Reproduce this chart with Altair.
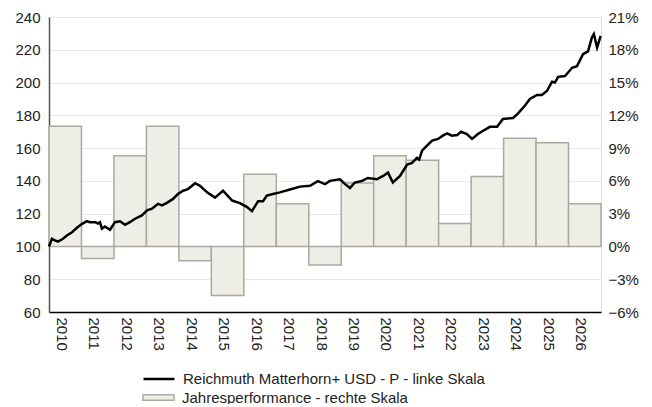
import altair as alt
import pandas as pd

# ---- data ----
years = list(range(2010, 2027))
perf = [11.0, -1.1, 8.3, 11.0, -1.3, -4.5, 6.6, 3.9, -1.7, 5.8, 8.3, 7.9, 2.1, 6.4, 9.9, 9.5, 3.9]

t = [2010.00, 2010.09, 2010.18, 2010.28, 2010.43, 2010.55, 2010.71, 2010.86,
     2011.02, 2011.17, 2011.26, 2011.42, 2011.51, 2011.57, 2011.63, 2011.72, 2011.88,
     2012.03, 2012.19, 2012.34, 2012.49, 2012.65, 2012.86,
     2013.02, 2013.17, 2013.36, 2013.48, 2013.63, 2013.82, 2013.97,
     2014.13, 2014.28, 2014.50, 2014.65, 2014.87,
     2015.11, 2015.36, 2015.64, 2015.88,
     2016.10, 2016.25, 2016.44, 2016.59, 2016.71, 2016.90,
     2017.11, 2017.42, 2017.73,
     2018.04, 2018.28, 2018.50, 2018.65, 2018.96,
     2019.12, 2019.27, 2019.42, 2019.64, 2019.82,
     2020.10, 2020.29, 2020.44, 2020.59, 2020.81,
     2021.03, 2021.18, 2021.33, 2021.40, 2021.49, 2021.64, 2021.80, 2021.98,
     2022.13, 2022.26, 2022.41, 2022.57, 2022.69, 2022.87,
     2023.03, 2023.21, 2023.37, 2023.58, 2023.80, 2023.98,
     2024.29, 2024.44, 2024.66, 2024.81,
     2025.03, 2025.18, 2025.34, 2025.49, 2025.58, 2025.68, 2025.89, 2025.98,
     2026.11, 2026.26, 2026.45, 2026.60, 2026.72, 2026.78, 2026.88, 2026.99]

nav = [100.0, 104.7, 103.7, 103.0, 104.7, 106.7, 108.7, 111.4,
       113.8, 115.4, 114.8, 114.8, 114.0, 114.8, 110.8, 112.2, 110.2,
       114.8, 115.4, 113.2, 114.8, 116.9, 118.9,
       122.0, 123.0, 126.0, 125.0, 126.6, 129.0, 132.0,
       134.0, 135.0, 138.6, 137.0, 133.0,
       129.8, 134.0, 128.0, 126.4,
       124.0, 121.5, 127.6, 127.6, 131.0, 132.0,
       133.0, 134.7, 136.5,
       137.0, 139.8, 138.0, 140.0, 141.0,
       138.0, 135.7, 139.0, 140.0, 141.8,
       141.0, 143.0, 145.0, 139.0, 143.0,
       150.0, 151.0, 154.0, 153.0, 158.5, 161.5, 164.6, 165.6,
       167.6, 169.0, 167.6, 168.0, 170.0, 168.6,
       165.6, 168.6, 170.6, 173.0, 173.0, 177.8,
       178.4, 181.0, 186.0, 190.0,
       192.4, 192.4, 195.0, 200.5, 200.0, 203.5, 204.0, 206.0,
       209.0, 210.0, 217.4, 219.0, 227.5, 229.6, 221.4, 228.5]

left_ticks = list(range(60, 241, 20))
right_ticks = list(range(-6, 22, 3))
year_ticks = [y + 0.5 for y in years]

line_name = "Reichmuth Matterhorn+ USD - P - linke Skala"
bar_name = "Jahresperformance - rechte Skala"

bars_df = pd.DataFrame({"start": years, "end": [y + 1 for y in years],
                        "perf": perf, "series": bar_name})
line_df = pd.DataFrame({"t": t, "nav": nav, "series": line_name})

FONT = "Liberation Sans"
xscale = alt.Scale(domain=[2010, 2027], nice=False, zero=False)
xaxis = alt.Axis(values=year_ticks, labelExpr="floor(datum.value) + ''",
                 labelAngle=90, ticks=False, grid=False,
                 domainColor="#000000", domainWidth=1.5,
                 labelFontSize=15, labelPadding=5, labelOffset=-4,
                 labelColor="#222222", labelFont=FONT)

bars = alt.Chart(bars_df).mark_bar(stroke="#a9a8a1", strokeWidth=1.5).encode(
    x=alt.X("start:Q", scale=xscale, title=None, axis=xaxis),
    x2="end:Q",
    y=alt.Y("perf:Q", scale=alt.Scale(domain=[-6, 21], nice=False), title=None,
            axis=alt.Axis(orient="right", values=right_ticks,
                          labelExpr="format(datum.value, 'd') + '%'",
                          grid=False, domain=False, ticks=False,
                          labelPadding=7, labelFontSize=15,
                          labelColor="#222222", labelFont=FONT)),
    y2=alt.datum(0),
    fill=alt.Fill("series:N", scale=alt.Scale(range=["#efeee6"]),
                  legend=alt.Legend(title=None, orient="none", legendX=93, legendY=364,
                                    padding=0, symbolType="M-1,-0.17L1,-0.17L1,0.17L-1,0.17Z",
                                    symbolSize=961, symbolStrokeColor="#a9a8a1",
                                    symbolStrokeWidth=1.5, labelOffset=7,
                                    labelFontSize=15, labelFont=FONT,
                                    labelColor="#222222", labelLimit=500)),
)

line = alt.Chart(line_df).mark_line(strokeWidth=2.5).encode(
    x=alt.X("t:Q", scale=xscale, title=None, axis=xaxis),
    y=alt.Y("nav:Q", scale=alt.Scale(domain=[60, 240], nice=False), title=None,
            axis=alt.Axis(orient="left", values=left_ticks, grid=True,
                          gridColor="#e8e8e8", gridWidth=1.2,
                          domainColor="#555555", domainWidth=1.5, ticks=False,
                          labelPadding=9, labelFontSize=15,
                          labelColor="#222222", labelFont=FONT)),
    stroke=alt.Stroke("series:N", scale=alt.Scale(range=["#000000"]),
                      legend=alt.Legend(title=None, orient="none", legendX=93, legendY=345,
                                        padding=0, symbolType="stroke", symbolSize=961,
                                        symbolStrokeWidth=2.5, labelOffset=7,
                                        labelFontSize=15, labelFont=FONT,
                                        labelColor="#222222", labelLimit=500)),
)

chart = alt.layer(bars, line).resolve_scale(
    y="independent", fill="independent", stroke="independent"
).properties(
    width=552, height=295,
    autosize=alt.AutoSizeParams(type="none"),
    padding={"left": 41, "top": 9, "right": 43, "bottom": 92},
).configure_view(stroke=None).configure(font=FONT)

chart.save("out.html", embed_options={"renderer": "svg", "actions": False})
